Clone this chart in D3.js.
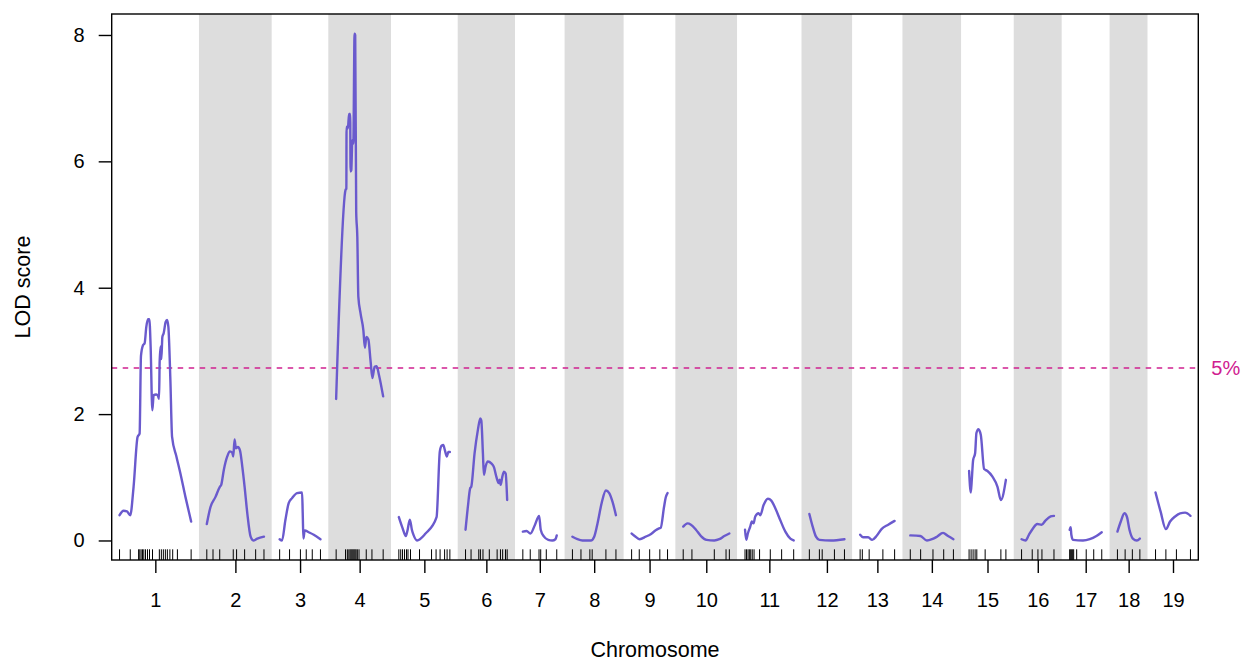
<!DOCTYPE html>
<meta charset="utf-8">
<script src="https://cdn.jsdelivr.net/npm/d3@7/dist/d3.min.js"></script>
<style>
    body { margin: 0; background: white; }
    svg text { font-family: "Liberation Sans", Arial, Helvetica, sans-serif; font-size: 20px; fill: black; }
    svg text.title { font-size: 21.5px; }
</style>
<div id="chart"></div>
<script>
    // chromosome names, gap between chromosomes (cM)
    var chrNames = ["1","2","3","4","5","6","7","8","9","10","11","12","13","14","15","16","17","18","19"];
    var gap = 25;

    // marker positions per chromosome (cM from first marker)
    var markers = [
        [0,17.1,30.4,32.3,34.4,36.6,38.7,41.4,44.6,47.8,52.6,63.5,66.7,69.9,73.1,76.3,80.3,84.8,92.3,114.2],
        [0,9.9,20.6,42.2,47.5,60.3,77.9,91.2],
        [0,15.8,33.1,42.4,52,65.1],
        [0,15,17.9,20.3,22.2,23.8,25.4,27,28.6,30.2,31.8,33.8,36.5,48,57.1,75],
        [0,3,5.8,9,12.2,14.6,18.6,33,52.2,59.4,65.8,73,77,81.4],
        [0,8.8,21.1,23.7,27.8,37.9,50.4,55.7,59.2,63.7,66.4],
        [0,11.8,25.8,28.5,37.4,54.1],
        [0,13.6,27.8,31.5,53.4,69.4],
        [0,12.2,28.8,45,57.3],
        [0,13.9,49.6,68.3,73.6],
        [0,2.4,4.8,6.9,9.1,11.5,14.4,23.2,40.3,58.4,77.6],
        [0,16,20.5,40,56],
        [0,3.5,14.4,36.3,55],
        [0,16.5,36.2,53.3,68.8],
        [0,3.2,6.4,9.6,12.3,25.6,50.7,58.7],
        [0,17,26.1,32.5,51.7],
        [0,1.6,3.2,4.8,6.4,11.2,26.4,38.4,51.2],
        [0,12.3,23.8,35.8],
        [0,16.5,33.3,55.7]
    ];

    // LOD curve per chromosome: [cM, LOD]
    var lodCurves = [
        [[0,0.40],[6.4,0.47],[11.8,0.46],[17.1,0.40],[22.4,0.85],[28.8,1.64],[32,1.69],[34.2,2.92],[37.4,3.09],[40,3.12],[42.7,3.38],[45.4,3.50],[47.5,3.50],[49.6,3.07],[52.3,2.06],[54.4,2.30],[58.2,2.31],[60.8,2.30],[63,2.24],[64,2.83],[65.6,3.07],[66.7,2.87],[68.3,3.22],[70.4,3.28],[73.6,3.46],[75.8,3.49],[77.9,3.38],[81.1,2.54],[83.8,1.64],[90.7,1.33],[97.1,1.06],[105.1,0.69],[114.2,0.30]],
        [[0,0.26],[5.9,0.53],[13.9,0.69],[20.8,0.85],[23,0.88],[27.2,1.12],[32.6,1.33],[36.8,1.41],[40.6,1.39],[42.2,1.33],[44.3,1.60],[46.4,1.46],[49.6,1.48],[52.8,1.43],[56.6,1.17],[60.3,0.85],[64.6,0.43],[69.9,0.06],[74.2,0.0],[80.6,0.03],[91.2,0.06]],
        [[0,0.02],[3.8,0.0],[9.1,0.32],[14.4,0.59],[19.8,0.67],[27.8,0.75],[35.8,0.76],[36.8,0.43],[37.9,0.03],[40,0.16],[46.4,0.13],[54.4,0.09],[65.1,0.02]],
        [[0,2.24],[15,5.55],[16.3,5.57],[16.6,6.55],[18.7,6.52],[20.6,6.75],[22.4,6.75],[23,5.84],[24.2,5.86],[25.8,6.34],[27.4,6.28],[29.4,8.02],[30.4,8.0],[32,5.2],[33.8,4.8],[35.4,3.86],[39,3.59],[43.4,3.33],[45.9,3.05],[48.2,3.22],[51.4,3.18],[55,2.83],[57.8,2.57],[61.4,2.75],[64.6,2.76],[68.3,2.62],[75,2.28]],
        [[0,0.37],[5.8,0.2],[11.2,0.07],[13.6,0.15],[17.6,0.33],[20.8,0.17],[23.7,0.08],[29,0.0],[42.6,0.11],[60.2,0.37],[65.4,1.41],[68.2,1.5],[70.9,1.51],[73.4,1.43],[76.6,1.33],[78.9,1.40],[81.4,1.40]],
        [[0,0.17],[3.7,0.53],[7.5,0.83],[9.1,0.85],[14.4,1.38],[19.7,1.75],[23.5,1.93],[25.1,1.90],[27.7,1.38],[29.3,1.04],[32,1.17],[35.7,1.25],[41.1,1.22],[45.3,1.16],[49.1,1.01],[52.8,0.91],[54.4,0.96],[56,0.88],[58.7,1.01],[61.3,1.09],[64,1.06],[66.4,0.64]],
        [[0,0.14],[6,0.15],[12,0.11],[19.4,0.25],[26,0.39],[28.5,0.17],[33.8,0.06],[40.6,0.01],[47,0],[52,0.02],[54.1,0.08]],
        [[0,0.06],[8,0.02],[16,0],[29.4,0],[34.7,0.06],[40,0.27],[47,0.61],[53.4,0.79],[58.7,0.75],[64,0.61],[69.4,0.40]],
        [[0,0.11],[6.4,0.06],[12.8,0.02],[22.4,0.06],[30.4,0.10],[38.4,0.16],[43.7,0.19],[46.4,0.2],[51.7,0.53],[54.4,0.68],[57.3,0.75]],
        [[0,0.22],[6.9,0.27],[12.3,0.25],[20.3,0.17],[28.3,0.07],[37.3,0.01],[49.6,0],[57.6,0.02],[65.6,0.07],[73.6,0.11]],
        [[0,0.17],[1.9,0.01],[4.5,0.11],[8.3,0.22],[10.9,0.30],[13.6,0.27],[16.3,0.38],[21.6,0.43],[24.3,0.40],[29.6,0.56],[36.5,0.66],[41.9,0.63],[48.3,0.51],[56.3,0.32],[64.3,0.14],[72.3,0.03],[77.6,0]],
        [[0,0.42],[5.3,0.22],[10.6,0.06],[16,0.01],[34.6,0],[56,0.02]],
        [[0,0.09],[4.8,0.05],[12.8,0.05],[19.2,0.01],[26.1,0.07],[34.1,0.18],[44.8,0.25],[55,0.31]],
        [[0,0.08],[16,0.07],[26.6,0],[34.6,0.02],[42.6,0.06],[52.2,0.12],[60.2,0.07],[68.8,0.02]],
        [[0,1.10],[2.7,0.76],[4.3,0.96],[6.4,1.27],[9.6,1.38],[11.7,1.70],[14.9,1.76],[18.7,1.67],[24,1.13],[29.3,1.10],[37.3,1.01],[45.3,0.85],[50.7,0.64],[58.7,0.96]],
        [[0,0.02],[6.4,0],[11.7,0.09],[18.1,0.19],[25,0.26],[32,0.25],[38.4,0.32],[46.4,0.38],[51.7,0.39]],
        [[0,0.17],[1.6,0.21],[2.7,0.09],[5.3,0.01],[21.3,0],[32,0.02],[42.7,0.07],[51.2,0.13]],
        [[0,0.14],[5.4,0.30],[11.2,0.43],[15,0.38],[19.2,0.17],[24.6,0.03],[31,0],[35.8,0.03]],
        [[0,0.76],[8,0.46],[16.5,0.18],[23.2,0.30],[31.2,0.38],[39.2,0.43],[47.2,0.44],[55.7,0.39]]
    ];

    var yTicks = [0, 2, 4, 6, 8];
    var threshold = 2.73;
    var thresholdLabel = "5%";

    //-----------------LAYOUT----------------------------
    var width = 1245, height = 662;
    var box = { left: 111.7, right: 1198.3, top: 14, bottom: 560 };

    // chromosome start offsets along the genome axis
    var chrLen = markers.map(function (m) { return d3.max(m); });
    var starts = [];
    var off = gap / 2;
    chrLen.forEach(function (len) { starts.push(off); off += len + gap; });
    var total = off - gap / 2;

    var x = d3.scaleLinear().domain([0, total]).range([box.left, box.right]);
    var y = d3.scaleLinear().domain([-0.309, 8.332]).range([box.bottom, box.top]);

    var svg = d3.select("#chart").append("svg").attr("width", width).attr("height", height);
    svg.append("rect").attr("width", width).attr("height", height).attr("fill", "white");

    // alternating gray bands
    svg.selectAll("rect.band").data(chrLen).enter().append("rect")
        .attr("class", "band")
        .attr("x", function (d, i) { return x(starts[i] - gap / 2); })
        .attr("width", function (d, i) { return x(starts[i] + d + gap / 2) - x(starts[i] - gap / 2); })
        .attr("y", box.top)
        .attr("height", box.bottom - box.top)
        .attr("fill", function (d, i) { return i % 2 == 1 ? "#dddddd" : "white"; });

    // threshold line
    svg.append("line")
        .attr("x1", box.left).attr("x2", box.right)
        .attr("y1", y(threshold)).attr("y2", y(threshold))
        .style("stroke", "#d02090").style("stroke-width", 1.4)
        .style("stroke-dasharray", "5.5,5.5");
    svg.append("text")
        .attr("x", box.right + 13).attr("y", y(threshold))
        .attr("dy", "0.35em")
        .style("fill", "#d02090")
        .text(thresholdLabel);

    // LOD curves
    var line = d3.line()
        .x(function (d) { return x(d[0]); })
        .y(function (d) { return y(d[1]); })
        .curve(d3.curveMonotoneX);
    svg.selectAll("path.lod").data(lodCurves).enter().append("path")
        .attr("class", "lod")
        .attr("d", function (d, i) {
            return line(d.map(function (p) { return [starts[i] + p[0], p[1]]; }));
        })
        .style("fill", "none").style("stroke", "#6a5acd").style("stroke-width", 2.4)
        .style("stroke-linejoin", "round").style("stroke-linecap", "round");

    // marker rug
    var rug = [];
    markers.forEach(function (m, i) { m.forEach(function (p) { rug.push(starts[i] + p); }); });
    svg.selectAll("line.rug").data(rug).enter().append("line")
        .attr("class", "rug")
        .attr("x1", function (d) { return x(d); }).attr("x2", function (d) { return x(d); })
        .attr("y1", box.bottom).attr("y2", box.bottom - 10.7)
        .style("stroke", "black").style("stroke-width", 1);

    // frame
    svg.append("rect")
        .attr("x", box.left).attr("y", box.top)
        .attr("width", box.right - box.left).attr("height", box.bottom - box.top)
        .style("fill", "none").style("stroke", "black").style("stroke-width", 1.4);

    // axes
    var centers = chrLen.map(function (d, i) { return starts[i] + d / 2; });
    var xAxis = svg.append("g").attr("transform", "translate(0," + box.bottom + ")")
        .call(d3.axisBottom(x).tickValues(centers)
            .tickFormat(function (d, i) { return chrNames[i]; })
            .tickSize(13).tickPadding(20));
    var yAxis = svg.append("g").attr("transform", "translate(" + box.left + ",0)")
        .call(d3.axisLeft(y).tickValues(yTicks).tickSize(13).tickPadding(14));
    [xAxis, yAxis].forEach(function (a) {
        a.select(".domain").remove();
        a.selectAll(".tick line").style("stroke", "black").style("stroke-width", 1.4);
        a.selectAll(".tick text").style("font-size", "20px").style("font-family", null);
    });

    svg.append("text").attr("class", "title")
        .attr("x", (box.left + box.right) / 2).attr("y", 656.5)
        .attr("text-anchor", "middle")
        .text("Chromosome");
    svg.append("text").attr("class", "title")
        .attr("transform", "translate(22," + (box.top + box.bottom) / 2 + ") rotate(-90)")
        .attr("dy", "0.35em").attr("text-anchor", "middle")
        .text("LOD score");
</script>
